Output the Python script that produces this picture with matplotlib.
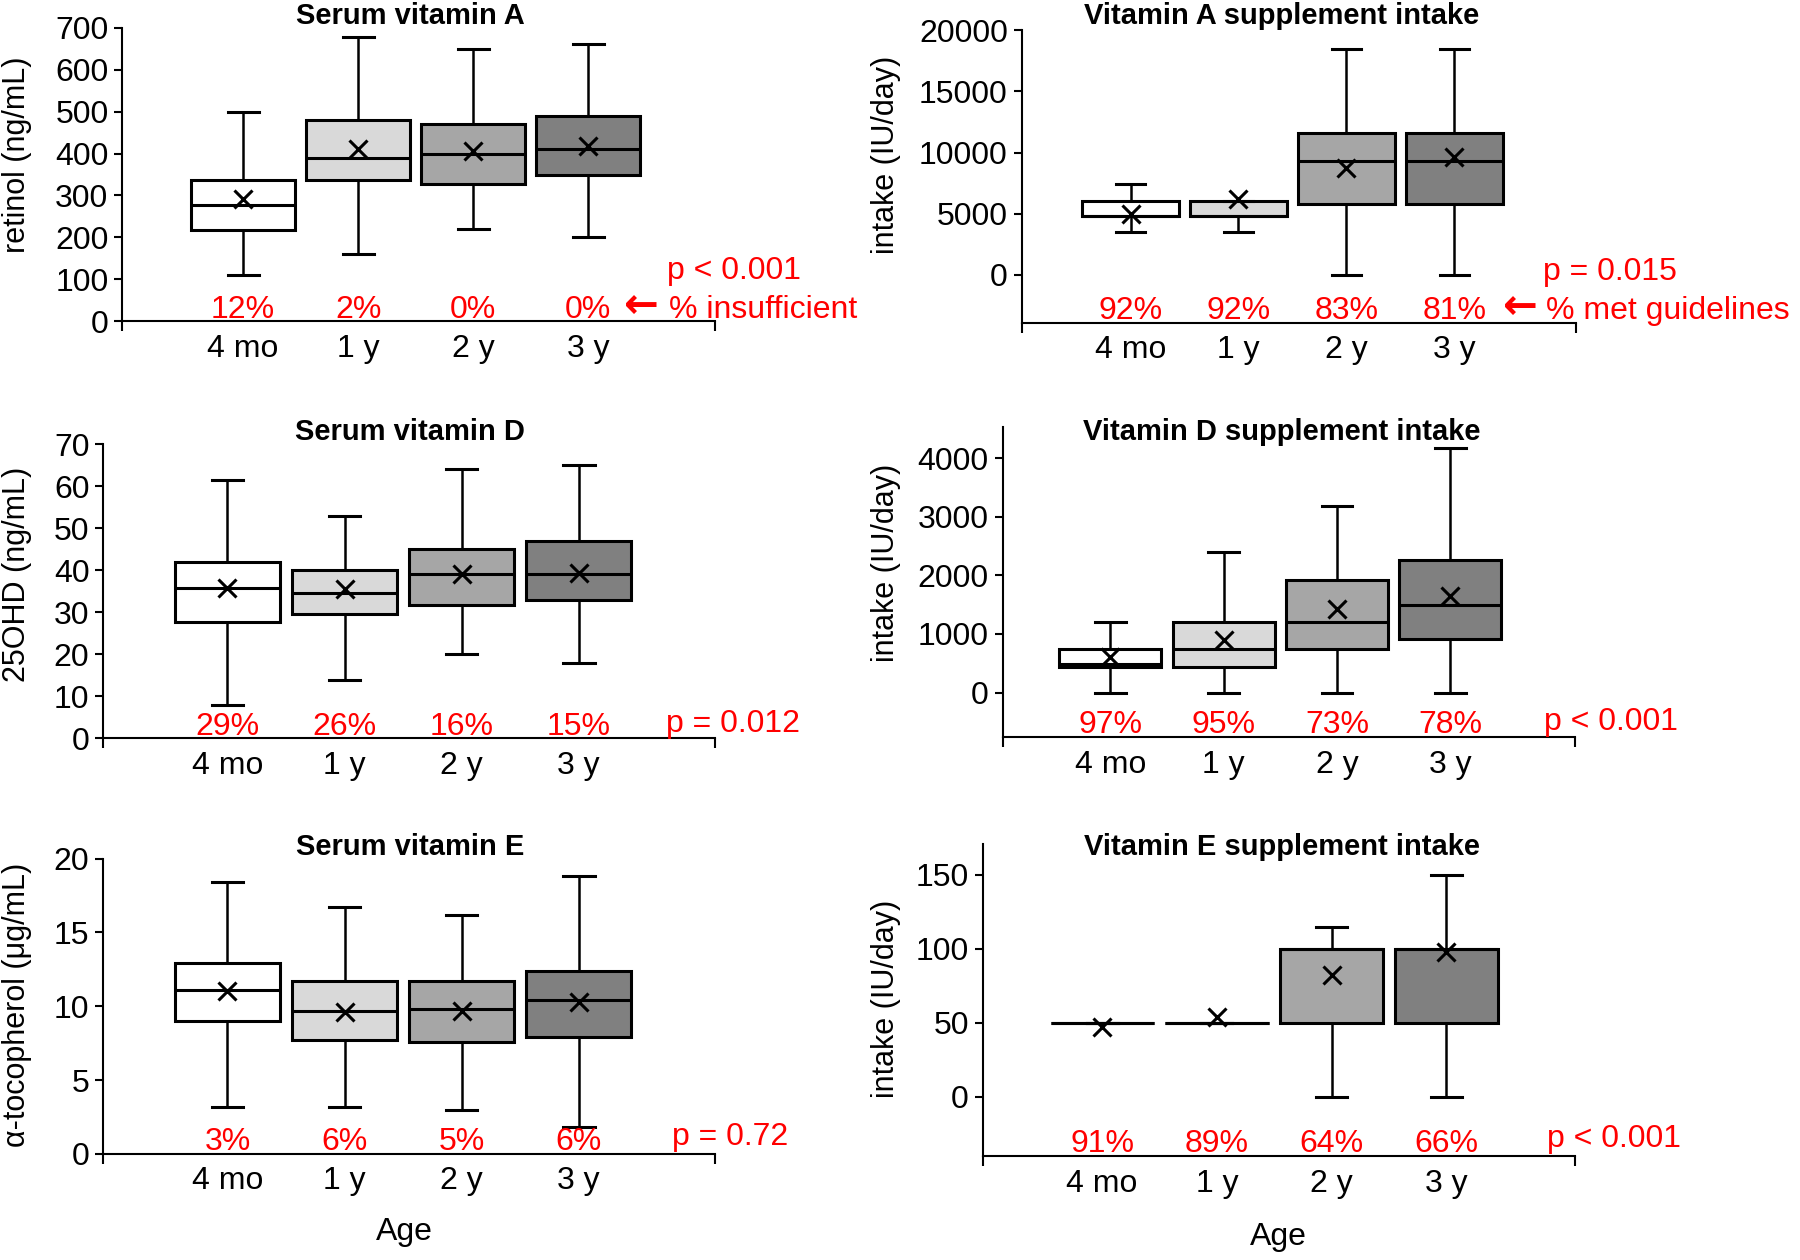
import matplotlib
matplotlib.use("Agg")
import matplotlib.pyplot as plt
import matplotlib.transforms as mtransforms

ages = ["4 mo", "1 y", "2 y", "3 y"]
fills = ["#ffffff", "#d9d9d9", "#a6a6a6", "#808080"]

# each: [low whisker, Q1, median, Q3, high whisker]
serumA = [[110, 218, 278, 338, 500], [160, 338, 390, 480, 678],
          [220, 328, 400, 470, 650], [200, 348, 410, 490, 660]]
serumA_mean = [292, 410, 405, 418]
serumA_pct = ["12%", "2%", "0%", "0%"]

suppA = [[3500, 4800, 4800, 6000, 7400], [3500, 4800, 4800, 6000, 6000],
         [0, 5800, 9300, 11600, 18500], [0, 5800, 9300, 11600, 18500]]
suppA_mean = [5000, 6200, 8700, 9600]
suppA_pct = ["92%", "92%", "83%", "81%"]

serumD = [[8, 27.7, 35.7, 42, 61.5], [14, 29.5, 34.7, 40, 53],
          [20, 31.7, 39, 45, 64], [18, 33, 39, 47, 65]]
serumD_mean = [35.7, 35.5, 39, 39.3]
serumD_pct = ["29%", "26%", "16%", "15%"]

suppD = [[0, 430, 480, 750, 1200], [0, 430, 750, 1200, 2400],
         [0, 750, 1200, 1920, 3180], [0, 920, 1500, 2270, 4180]]
suppD_mean = [600, 900, 1420, 1640]
suppD_pct = ["97%", "95%", "73%", "78%"]

serumE = [[3.2, 9.0, 11.1, 12.9, 18.4], [3.2, 7.7, 9.7, 11.7, 16.7],
          [3.0, 7.6, 9.8, 11.7, 16.2], [1.8, 7.9, 10.4, 12.4, 18.8]]
serumE_mean = [11.0, 9.6, 9.7, 10.3]
serumE_pct = ["3%", "6%", "5%", "6%"]

suppE = [[50, 50, 50, 50, 50], [50, 50, 50, 50, 50],
         [0, 50, 100, 100, 115], [0, 50, 100, 100, 150]]
suppE_mean = [47, 54, 82, 98]
suppE_pct = ["91%", "89%", "64%", "66%"]

NARROW = ["Liberation Sans", "DejaVu Sans"]
REG = ["Liberation Sans", "DejaVu Sans"]

fig = plt.figure(figsize=(18, 12.6), dpi=100)

panels = [
    dict(pos=[0.068, 0.745, 0.329, 0.233], data=serumA, mean=serumA_mean, pct=serumA_pct,
         ylim=(0, 700), yticks=range(0, 701, 100), xlim=(-1.05, 4.1),
         title="Serum vitamin A", tpos=(0.228, 0.987), ylabel="retinol (ng/mL)", lpos=(0.0096, 0.877),
         p="p < 0.001", ppos=(0.92, 0.145), note="% insufficient", arrowx=3.46, notex=3.70),
    dict(pos=[0.5676, 0.744, 0.308, 0.232], data=suppA, mean=suppA_mean, pct=suppA_pct,
         ylim=(-3900, 20000), yticks=range(0, 20001, 5000), xlim=(-1.01, 4.13),
         title="Vitamin A supplement intake", tpos=(0.712, 0.987), ylabel="intake (IU/day)", lpos=(0.492, 0.877),
         p="p = 0.015", ppos=(0.94, 0.145), note="% met guidelines", arrowx=3.61, notex=3.85),
    dict(pos=[0.0574, 0.414, 0.3396, 0.2335], data=serumD, mean=serumD_mean, pct=serumD_pct,
         ylim=(0, 70), yticks=range(0, 71, 10), xlim=(-1.06, 4.16),
         title="Serum vitamin D", tpos=(0.228, 0.657), ylabel="25OHD (ng/mL)", lpos=(0.0096, 0.544),
         p="p = 0.012", ppos=(0.92, 0.023)),
    dict(pos=[0.557, 0.415, 0.318, 0.246], data=suppD, mean=suppD_mean, pct=suppD_pct,
         ylim=(-760, 4530), yticks=range(0, 4001, 1000), xlim=(-0.95, 4.1),
         title="Vitamin D supplement intake", tpos=(0.712, 0.657), ylabel="intake (IU/day)", lpos=(0.492, 0.5536),
         p="p < 0.001", ppos=(0.945, 0.023)),
    dict(pos=[0.0574, 0.0843, 0.3396, 0.2342], data=serumE, mean=serumE_mean, pct=serumE_pct,
         ylim=(0, 20), yticks=range(0, 21, 5), xlim=(-1.06, 4.16),
         title="Serum vitamin E", tpos=(0.228, 0.328), ylabel="\u03b1-tocopherol (\u03bcg/mL)", lpos=(0.0096, 0.2027),
         p="p = 0.72", ppos=(0.93, 0.03)),
    dict(pos=[0.546, 0.0825, 0.329, 0.248], data=suppE, mean=suppE_mean, pct=suppE_pct,
         ylim=(-40, 171), yticks=range(0, 151, 50), xlim=(-1.04, 4.12),
         title="Vitamin E supplement intake", tpos=(0.712, 0.328), ylabel="intake (IU/day)", lpos=(0.492, 0.2073),
         p="p < 0.001", ppos=(0.953, 0.03)),
]

for pn in panels:
    ax = fig.add_axes(pn["pos"])
    stats = []
    for i, (lo, q1, med, q3, hi) in enumerate(pn["data"]):
        stats.append(dict(whislo=lo, q1=q1, med=med, q3=q3, whishi=hi,
                          mean=pn["mean"][i], fliers=[]))
    positions = list(range(len(ages)))
    bp = ax.bxp(stats, positions=positions, widths=0.9, patch_artist=True,
                showmeans=True, showfliers=False, capwidths=0.27,
                boxprops=dict(linewidth=2.2, edgecolor="black"),
                medianprops=dict(color="black", linewidth=2.2),
                whiskerprops=dict(color="black", linewidth=1.8),
                capprops=dict(color="black", linewidth=2.2),
                meanprops=dict(marker="x", markeredgecolor="black", markersize=13,
                               markeredgewidth=2.2))
    for patch, c in zip(bp["boxes"], fills):
        patch.set_facecolor(c)
    ax.set_xlim(*pn["xlim"])
    ax.set_ylim(*pn["ylim"])
    ax.set_yticks(list(pn["yticks"]))
    ax.set_xticks(positions)
    ax.set_xticklabels(ages, fontfamily=NARROW, fontsize=23)
    ax.set_xticks(list(pn["xlim"]), minor=True)
    ax.tick_params(axis="x", which="major", length=0, pad=9)
    ax.tick_params(axis="x", which="minor", length=7, width=1.5, direction="out")
    ax.tick_params(axis="y", length=6, width=1.5, direction="out", pad=4, labelsize=23)
    for lab in ax.get_yticklabels():
        lab.set_fontfamily(NARROW)
    for s in ["top", "right"]:
        ax.spines[s].set_visible(False)
    for s in ["left", "bottom"]:
        ax.spines[s].set_linewidth(1.5)
    trans = mtransforms.blended_transform_factory(ax.transData, ax.transAxes)
    for i, t in enumerate(pn["pct"]):
        ax.text(i, 0.012, t, transform=trans, ha="center", va="baseline",
                color="red", fontsize=23, fontfamily=NARROW, clip_on=False)
    ax.text(pn["ppos"][0], pn["ppos"][1], pn["p"], transform=ax.transAxes, ha="left", va="baseline",
            color="red", fontsize=23, fontfamily=NARROW, clip_on=False)
    if "note" in pn:
        ax.text(pn["arrowx"], 0.012, "\u2190", transform=trans, ha="center", va="baseline",
                color="red", fontsize=30, fontweight="bold", fontfamily=["DejaVu Sans"], clip_on=False)
        ax.text(pn["notex"], 0.012, pn["note"], transform=trans, ha="left", va="baseline",
                color="red", fontsize=23, fontfamily=NARROW, clip_on=False)
    fig.text(pn["tpos"][0], pn["tpos"][1], pn["title"], ha="center", va="center",
             fontsize=21, fontweight="bold", fontfamily=NARROW)
    fig.text(pn["lpos"][0], pn["lpos"][1], pn["ylabel"], rotation=90, ha="center", va="center",
             fontsize=22, fontfamily=REG)

fig.text(0.2245, 0.022, "Age", ha="center", va="center", fontsize=23, fontfamily=NARROW)
fig.text(0.710, 0.018, "Age", ha="center", va="center", fontsize=23, fontfamily=NARROW)

fig.savefig("out.png", dpi=100)
